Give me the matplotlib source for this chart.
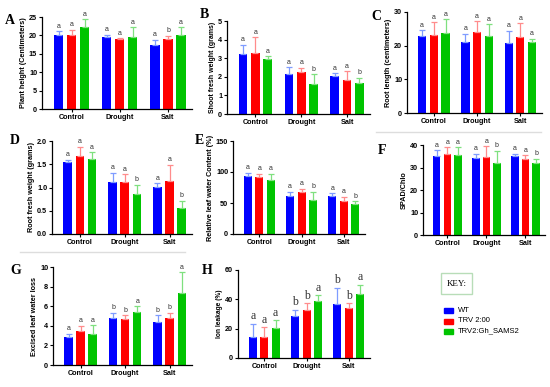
import matplotlib
matplotlib.use("Agg")
import matplotlib.pyplot as plt
from matplotlib.patches import Rectangle
import numpy as np

categories = ["Control", "Drought", "Salt"]
series = ["WT", "TRV 2:00", "TRV2:Gh_SAMS2"]
bar_colors = ["#0000FF", "#FF0000", "#00C400"]
err_colors = ["#7f9cff", "#ff8c8c", "#7fe07f"]

# Panel A
A_vals = [[20.1, 19.7, 17.3], [20.1, 18.9, 19.1], [22.4, 19.5, 20.0]]
A_err = [[1.0, 0.5, 1.5], [1.5, 0.3, 0.8], [2.0, 2.7, 2.3]]
A_let = [["a", "a", "a"], ["a", "a", "b"], ["a", "a", "a"]]
# Panel B
B_vals = [[3.22, 2.17, 2.04], [3.27, 2.28, 1.85], [2.95, 1.60, 1.65]]
B_err = [[0.50, 0.35, 0.15], [0.85, 0.20, 0.45], [0.15, 0.55, 0.30]]
B_let = [["a", "a", "a"], ["a", "a", "a"], ["a", "b", "b"]]
# Panel C
C_vals = [[22.9, 21.1, 20.9], [23.1, 24.0, 22.6], [23.8, 22.8, 21.0]]
C_err = [[1.7, 2.5, 3.6], [3.9, 3.3, 4.1], [4.0, 3.5, 1.0]]
C_let = [["a", "a", "a"], ["a", "a", "a"], ["a", "a", "a"]]
# Panel D
D_vals = [[1.54, 1.12, 1.02], [1.68, 1.12, 1.15], [1.61, 0.86, 0.55]]
D_err = [[0.06, 0.20, 0.07], [0.20, 0.17, 0.34], [0.15, 0.20, 0.17]]
D_let = [["a", "a", "a"], ["a", "a", "a"], ["a", "b", "b"]]
# Panel E
E_vals = [[93, 62, 62], [92, 68, 53], [87, 55, 48]]
E_err = [[6, 6, 4], [5, 5, 7], [10, 13, 5]]
E_let = [["a", "a", "a"], ["a", "a", "a"], ["a", "b", "b"]]
# Panel F
F_vals = [[35.2, 34.4, 34.9], [36.1, 34.6, 33.6], [35.6, 32.0, 32.0]]
F_err = [[2.5, 1.7, 1.3], [2.8, 4.8, 1.8], [3.3, 5.5, 2.0]]
F_let = [["a", "a", "a"], ["a", "a", "a"], ["a", "b", "b"]]
# Panel G
G_vals = [[2.85, 4.8, 4.35], [3.5, 4.7, 4.8], [3.15, 5.45, 7.3]]
G_err = [[0.35, 0.55, 0.75], [0.5, 0.4, 0.55], [0.9, 0.55, 2.15]]
G_let = [["a", "b", "b"], ["a", "b", "b"], ["a", "a", "a"]]
# Panel H
H_vals = [[14.5, 28.5, 37.0], [14.0, 32.5, 34.0], [20.5, 39.0, 43.5]]
H_err = [[9.0, 4.5, 11.0], [7.0, 5.0, 3.5], [5.5, 4.0, 6.5]]
H_let = [["a", "b", "b"], ["a", "b", "b"], ["a", "a", "a"]]

W, Hh = 550, 387
fig = plt.figure(figsize=(5.5, 3.87), dpi=100)
fig.patch.set_facecolor("white")

def px_axes(x0, y0, x1, y1):
    return fig.add_axes([x0 / W, 1 - y1 / Hh, (x1 - x0) / W, (y1 - y0) / Hh])

SANS = "Liberation Sans"
SERIF = "Liberation Serif"

def panel(box, vals, errs, lets, ylim, yticks, ylabel, letter, letter_pos,
          ticklabels=None, let_serif=False, let_size=5, ylabel_size=5.2):
    ax = px_axes(*box)
    x = np.arange(len(categories))
    offs = [-0.27, 0.0, 0.27]
    bw = 0.19
    span = ylim[1] - ylim[0]
    for i in range(3):
        xs = x + offs[i]
        ax.bar(xs, vals[i], width=bw, color=bar_colors[i], zorder=2)
        ax.errorbar(xs, vals[i], yerr=[np.zeros(3), errs[i]], fmt="none",
                    ecolor=err_colors[i], elinewidth=0.9, capsize=2.0,
                    capthick=0.9, zorder=3)
        for j in range(3):
            ax.text(xs[j], vals[i][j] + errs[i][j] + span * 0.015, lets[i][j],
                    ha="center", va="bottom", fontsize=let_size,
                    family=SERIF if let_serif else SANS, color="#333333")
    ax.set_xlim(-0.62, 2.5)
    ax.set_ylim(*ylim)
    ax.set_yticks(yticks)
    ax.set_yticklabels(ticklabels if ticklabels else [str(t) for t in yticks])
    ax.set_xticks(x)
    ax.set_xticklabels(categories)
    for lab in ax.get_xticklabels() + ax.get_yticklabels():
        lab.set_fontfamily(SANS)
        lab.set_fontweight("bold")
        lab.set_fontsize(5.2)
    ax.tick_params(axis="both", length=2, width=0.8, pad=1.5)
    ax.spines["top"].set_visible(False)
    ax.spines["right"].set_visible(False)
    ax.spines["left"].set_linewidth(0.9)
    ax.spines["bottom"].set_linewidth(0.9)
    ax.set_ylabel(ylabel, fontsize=ylabel_size, fontweight="bold",
                  family=SANS, labelpad=1.5)
    fig.text(letter_pos[0] / W, 1 - letter_pos[1] / Hh, letter,
             fontsize=10, fontweight="bold", family=SERIF,
             ha="center", va="center")
    return ax

panel((42, 17, 192, 109), A_vals, A_err, A_let, (0, 25), [0, 5, 10, 15, 20, 25],
      "Plant height (Centimeters)", "A", (10, 20))
panel((227, 21, 370, 114), B_vals, B_err, B_let, (0, 5), [0, 1, 2, 3, 4, 5],
      "Shoot fresh weight (grams)", "B", (204, 15), ylabel_size=5.0)
panel((407, 12, 542, 113), C_vals, C_err, C_let, (0, 30), [0, 10, 20, 30],
      "Root length (centimeters)", "C", (376, 17))
panel((52, 141, 192, 234), D_vals, D_err, D_let, (0, 2.0), [0, 0.5, 1.0, 1.5, 2.0],
      "Root fresh weight (grams)", "D", (15, 141),
      ticklabels=["0.0", "0.5", "1.0", "1.5", "2.0"])
panel((233, 141, 365, 234), E_vals, E_err, E_let, (0, 150), [0, 50, 100, 150],
      "Relative leaf water Content (%)", "E", (199, 141))
panel((423, 145, 545, 235), F_vals, F_err, F_let, (0, 40), [0, 10, 20, 30, 40],
      "SPAD/Chlo", "F", (382, 150))
panel((53, 267, 192, 365), G_vals, G_err, G_let, (0, 10), [0, 2, 4, 6, 8, 10],
      "Excised leaf water loss", "G", (16, 270))
panel((238, 270, 370, 358), H_vals, H_err, H_let, (0, 60), [0, 20, 40, 60],
      "Ion leakage (%)", "H", (207, 270), let_serif=True, let_size=8.5,
      ylabel_size=4.8)

# separator lines
fig.add_artist(plt.Line2D([20 / W, 185 / W], [1 - 252 / Hh, 1 - 252 / Hh],
                          color="#dddddd", lw=1.0))
fig.add_artist(plt.Line2D([376 / W, 541 / W], [1 - 132 / Hh, 1 - 132 / Hh],
                          color="#dddddd", lw=1.0))

# Key box
fig.add_artist(Rectangle((441 / W, 1 - 294 / Hh), 31 / W, 21 / Hh,
                         transform=fig.transFigure, fill=False,
                         edgecolor="#b8ddb8", lw=1.0))
fig.text(456.5 / W, 1 - 284 / Hh, "KEY:", family=SERIF, fontsize=6.5,
         ha="center", va="center")
rows = [310, 321, 331]
for i, name in enumerate(series):
    fig.add_artist(Rectangle((444 / W, 1 - (rows[i] + 2.5) / Hh), 9 / W, 5 / Hh,
                             transform=fig.transFigure, color=bar_colors[i]))
    fig.text(458 / W, 1 - rows[i] / Hh, name, family=SANS, fontsize=5.5,
             ha="left", va="center")

fig.savefig("out.png", dpi=100)
